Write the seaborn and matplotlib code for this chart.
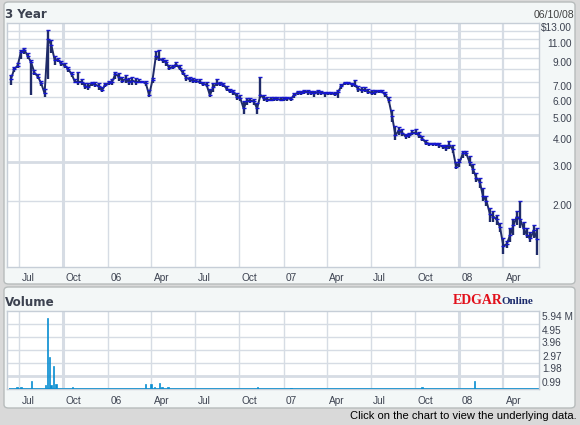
import pandas as pd
import seaborn as sns
import matplotlib.pyplot as plt
import matplotlib.dates as mdates
from matplotlib.patches import FancyBboxPatch
from matplotlib.ticker import NullLocator
from matplotlib.transforms import ScaledTranslation, blended_transform_factory

sns.set_style("white")

W, H, DPI = 580, 425, 100

# weekly price bars, first week ends 2005-06-14
week_start = "2005-06-14"
closes = [
    7.2, 8.0, 8.3, 9.6, 9.8, 9.2, 8.6, 7.7, 7.4, 6.9,
    6.2, 11.0, 10.3, 8.8, 8.8, 8.5, 8.3, 8.0, 7.6, 7.0,
    7.0, 7.0, 6.7, 6.6, 6.9, 6.8, 6.7, 6.4, 6.8, 6.9,
    7.0, 7.6, 7.4, 7.1, 7.2, 7.0, 7.1, 7.0, 7.0, 7.0,
    6.9, 6.1, 7.15, 9.2, 8.9, 8.8, 8.6, 8.1, 8.2, 8.4,
    8.1, 7.7, 7.3, 7.2, 7.1, 7.05, 7.0, 6.85, 6.8, 6.1,
    6.6, 6.9, 6.85, 6.8, 6.5, 6.35, 6.3, 6.0, 5.9, 5.3,
    5.75, 5.75, 5.7, 5.3, 6.1, 5.9, 5.8, 5.8, 5.85, 5.85,
    5.8, 5.85, 5.9, 5.85, 6.1, 6.25, 6.2, 6.3, 6.3, 6.25,
    6.2, 6.3, 6.25, 6.2, 6.2, 6.2, 6.15, 6.3, 6.7, 6.9,
    6.9, 6.85, 6.75, 6.5, 6.4, 6.45, 6.3, 6.25, 6.3, 6.35,
    6.3, 6.15, 5.8, 4.9, 4.0, 4.2, 4.1, 3.95, 4.0, 4.1,
    4.1, 4.0, 3.85, 3.7, 3.65, 3.65, 3.65, 3.6, 3.55, 3.5,
    3.6, 3.45, 2.87, 3.0, 3.3, 3.3, 3.0, 2.8, 2.55, 2.45,
    2.1, 2.0, 1.75, 1.7, 1.65, 1.52, 1.25, 1.27, 1.4, 1.55,
    1.7, 1.65, 1.5, 1.4, 1.35, 1.47, 1.34,
]
lows = [
    6.8, 7.8, 8.1, 8.9, 9.4, 8.9, 6.1, 7.5, 7.2, 6.7,
    6.0, 7.2, 9.5, 8.4, 8.6, 8.3, 8.1, 7.8, 7.4, 6.9,
    6.8, 6.8, 6.5, 6.4, 6.7, 6.6, 6.4, 6.3, 6.6, 6.8,
    6.8, 7.2, 7.1, 6.9, 6.9, 6.8, 6.8, 6.8, 6.9, 6.9,
    6.7, 5.95, 6.9, 8.8, 8.7, 8.5, 8.3, 7.9, 8.0, 8.2,
    7.9, 7.5, 7.1, 7.0, 6.9, 6.9, 6.85, 6.7, 6.6, 6.0,
    6.3, 6.7, 6.7, 6.6, 6.35, 6.2, 6.1, 5.8, 5.7, 5.0,
    5.5, 5.6, 5.5, 5.0, 5.9, 5.7, 5.65, 5.7, 5.7, 5.7,
    5.7, 5.7, 5.75, 5.7, 5.9, 6.1, 6.1, 6.15, 6.1, 6.1,
    6.0, 6.1, 6.1, 6.0, 6.1, 6.1, 6.05, 5.9, 6.5, 6.8,
    6.75, 6.6, 6.6, 6.3, 6.25, 6.3, 6.15, 6.1, 6.1, 6.2,
    6.2, 6.0, 5.6, 4.6, 3.8, 4.0, 3.95, 3.85, 3.9, 4.0,
    4.0, 3.9, 3.75, 3.6, 3.55, 3.55, 3.55, 3.5, 3.45, 3.4,
    3.45, 3.3, 2.8, 2.85, 3.15, 3.2, 2.9, 2.65, 2.45, 2.3,
    2.0, 1.9, 1.6, 1.6, 1.55, 1.45, 1.15, 1.22, 1.3, 1.4,
    1.55, 1.5, 1.4, 1.35, 1.3, 1.35, 1.13,
]
highs = [
    7.5, 8.2, 8.5, 9.8, 10.0, 9.5, 8.8, 7.9, 7.6, 7.1,
    6.5, 12.1, 10.9, 9.2, 9.0, 8.7, 8.5, 8.2, 7.8, 7.2,
    7.8, 7.2, 6.9, 6.9, 7.0, 7.0, 6.9, 6.6, 6.9, 7.1,
    7.2, 7.8, 7.7, 7.4, 7.5, 7.3, 7.4, 7.3, 7.2, 7.1,
    7.1, 6.4, 7.3, 9.7, 9.8, 9.0, 8.8, 8.4, 8.4, 8.6,
    8.4, 7.9, 7.5, 7.4, 7.3, 7.2, 7.2, 7.0, 7.0, 6.5,
    6.9, 7.2, 7.0, 6.95, 6.7, 6.5, 6.45, 6.2, 6.1, 5.7,
    5.9, 5.9, 5.85, 5.6, 7.4, 6.1, 5.95, 5.95, 6.0, 6.0,
    5.95, 6.0, 6.0, 6.0, 6.2, 6.35, 6.35, 6.4, 6.4, 6.35,
    6.35, 6.4, 6.35, 6.3, 6.3, 6.3, 6.3, 6.4, 6.85, 7.0,
    7.0, 6.95, 7.15, 6.7, 6.6, 6.6, 6.5, 6.4, 6.4, 6.45,
    6.45, 6.3, 6.0, 5.2, 4.4, 4.35, 4.25, 4.05, 4.1, 4.2,
    4.25, 4.15, 3.95, 3.8, 3.7, 3.7, 3.7, 3.7, 3.6, 3.6,
    3.75, 3.6, 3.0, 3.1, 3.4, 3.4, 3.2, 2.95, 2.7, 2.55,
    2.3, 2.1, 1.85, 1.8, 1.72, 1.58, 1.35, 1.32, 1.5, 1.65,
    1.8, 2.0, 1.6, 1.5, 1.45, 1.55, 1.5,
]

# volume in millions: weekly background level plus the busy days
weekly_volumes = [
    0.09, 0.10, 0.09, 0.09, 0.09, 0.09, 0.09, 0.09, 0.09, 0.10,
    0.10, 0.10, 0.10, 0.09, 0.09, 0.09, 0.09, 0.09, 0.09, 0.09,
    0.09, 0.09, 0.09, 0.09, 0.09, 0.09, 0.09, 0.09, 0.09, 0.09,
    0.09, 0.09, 0.09, 0.09, 0.09, 0.09, 0.09, 0.09, 0.09, 0.09,
    0.09, 0.10, 0.10, 0.10, 0.10, 0.10, 0.09, 0.09, 0.09, 0.09,
    0.09, 0.09, 0.09, 0.09, 0.09, 0.09, 0.09, 0.09, 0.09, 0.09,
    0.09, 0.09, 0.09, 0.09, 0.09, 0.09, 0.09, 0.09, 0.09, 0.09,
    0.09, 0.09, 0.09, 0.09, 0.09, 0.09, 0.09, 0.09, 0.09, 0.09,
    0.09, 0.09, 0.09, 0.09, 0.09, 0.09, 0.09, 0.09, 0.09, 0.09,
    0.09, 0.09, 0.09, 0.09, 0.09, 0.09, 0.09, 0.09, 0.09, 0.09,
    0.09, 0.09, 0.09, 0.09, 0.09, 0.09, 0.09, 0.09, 0.09, 0.09,
    0.09, 0.09, 0.09, 0.09, 0.09, 0.09, 0.09, 0.09, 0.09, 0.09,
    0.09, 0.09, 0.09, 0.09, 0.09, 0.09, 0.09, 0.09, 0.09, 0.09,
    0.09, 0.09, 0.09, 0.09, 0.09, 0.09, 0.09, 0.09, 0.09, 0.09,
    0.09, 0.09, 0.09, 0.09, 0.09, 0.09, 0.09, 0.09, 0.09, 0.09,
    0.09, 0.09, 0.09, 0.09, 0.09, 0.09, 0.09,
]
spike_dates = [
    "2005-06-27", "2005-07-05", "2005-07-27", "2005-08-25", "2005-08-29",
    "2005-09-02", "2005-09-05", "2005-09-11", "2005-09-16", "2005-10-20",
    "2006-03-20", "2006-04-01", "2006-04-08", "2006-04-19", "2006-04-24",
    "2006-05-06", "2006-11-08", "2007-01-16", "2007-10-15", "2008-02-01",
]
spike_volumes = [
    0.12, 0.15, 0.62, 0.30, 5.40,
    2.40, 0.30, 1.78, 0.35, 0.12,
    0.35, 0.40, 0.14, 0.45, 0.15,
    0.15, 0.12, 0.10, 0.12, 0.62,
]

price_grid = [2, 3, 4, 5, 6, 7, 8, 9, 10, 11, 12]
price_ticks = [13, 11, 9, 7, 6, 5, 4, 3, 2]
price_labels = ["$13.00", "11.00", "9.00", "7.00", "6.00", "5.00", "4.00", "3.00", "2.00"]
vol_ticks = [5.94, 4.95, 3.96, 2.97, 1.98, 0.99]
vol_labels = ["5.94 M", "4.95", "3.96", "2.97", "1.98", "0.99"]
quarter_starts = ["2005-07-01", "2005-10-01", "2006-01-01", "2006-04-01",
                  "2006-07-01", "2006-10-01", "2007-01-01", "2007-04-01",
                  "2007-07-01", "2007-10-01", "2008-01-01", "2008-04-01"]
quarter_labels = ["Jul", "Oct", "06", "Apr", "Jul", "Oct", "07", "Apr",
                  "Jul", "Oct", "08", "Apr"]

GRID = "#d6dce4"
TXT = "#3c4250"
NAVY = "#1f2b68"
VOL = "#0b8fd2"
# quarter gridlines drawn heavier in the original (Oct 05, Jan 08, Apr 08)
thick_x = {1: 2.2, 10: 2.2, 11: 1.6}


def fx(px):
    return px / W


def fy(py):
    return 1 - py / H


def panel(fig, x0, y0, x1, y1):
    box = FancyBboxPatch((fx(x0), fy(y1)), (x1 - x0) / W, (y1 - y0) / H,
                         boxstyle="round,pad=0,rounding_size=0.008",
                         transform=fig.transFigure, fc="#f3f7f7", ec="#b7bcbc",
                         lw=1, zorder=-5)
    fig.patches.append(box)


def style_axes(ax, xlim):
    ax.set_facecolor("white")
    for sp in ax.spines.values():
        sp.set_color("#c6ced7")
        sp.set_linewidth(1)
    ax.set_xlim(xlim)
    ax.set_xticks([mdates.date2num(pd.Timestamp(d)) for d in quarter_starts])
    ax.set_xticklabels([])
    ax.yaxis.set_minor_locator(NullLocator())
    ax.xaxis.set_minor_locator(NullLocator())
    ax.tick_params(length=0, labelleft=False, labelbottom=False)
    ax.set_axisbelow(True)
    ax.grid(True, which="major", color=GRID, lw=1)
    for i, line in enumerate(ax.get_xgridlines()):
        if i in thick_x:
            line.set_linewidth(thick_x[i])
    ax.set_xlabel("")
    ax.set_ylabel("")


def x_labels(fig, ax, y_px, bottom_px, height_px):
    tr = blended_transform_factory(ax.transData, ax.transAxes) + \
        ScaledTranslation(2.5 / DPI, 0, fig.dpi_scale_trans)
    yf = (bottom_px - y_px) / height_px
    for d, lab in zip(quarter_starts, quarter_labels):
        ax.text(mdates.date2num(pd.Timestamp(d)), yf, lab, transform=tr,
                ha="left", va="baseline", fontsize=7.3,
                family="Liberation Sans", color=TXT, clip_on=False)


def main():
    fig = plt.figure(figsize=(W / DPI, H / DPI), dpi=DPI, facecolor="#d9d9d9")
    panel(fig, 4, 2, 575, 284)
    panel(fig, 4, 287, 575, 408)

    xlim = (mdates.date2num(pd.Timestamp("2005-06-06")),
            mdates.date2num(pd.Timestamp("2008-06-14")))

    df = pd.DataFrame({
        "date": pd.date_range(week_start, periods=len(closes), freq="7D"),
        "close": closes, "low": lows, "high": highs,
        "volume": weekly_volumes,
    })

    # price panel
    ax1 = fig.add_axes([fx(7), fy(267), (539 - 7) / W, (267 - 23) / H])
    ax1.set_yscale("log")
    ax1.vlines(df["date"], df["low"], df["high"], color=NAVY, lw=1.7, zorder=2)
    sns.lineplot(data=df, x="date", y="close", ax=ax1, color=NAVY,
                 lw=1.4, zorder=3)
    ax1.plot(df["date"], df["high"], ls="none", marker="_", ms=3, mew=1,
             color="#1818d0", zorder=4)
    ax1.plot(df["date"], df["close"], ls="none", marker="_", ms=3, mew=1,
             color="#1414d8", zorder=4)
    ax1.set_ylim(1.0, 13.0)
    ax1.set_yticks(price_grid)
    style_axes(ax1, xlim)
    for i, line in enumerate(ax1.get_ygridlines()):
        if price_grid[i] in (3, 4):
            line.set_linewidth(2)

    tr = blended_transform_factory(ax1.transAxes, ax1.transData) + \
        ScaledTranslation(0, -8 / DPI, fig.dpi_scale_trans)
    for v, lab in zip(price_ticks, price_labels):
        ax1.text((572 - 7) / 532, v, lab, transform=tr, ha="right",
                 va="baseline", fontsize=7.3, family="Liberation Sans",
                 color=TXT, clip_on=False)
    x_labels(fig, ax1, 281, 267, 244)

    # volume panel
    ax2 = fig.add_axes([fx(7), fy(389), (539 - 7) / W, (389 - 311) / H])
    ax2.bar(df["date"], df["volume"], width=7, color=VOL, lw=0, zorder=2)
    ax2.bar(pd.to_datetime(spike_dates), spike_volumes, width=3.0, color=VOL,
            edgecolor=VOL, lw=0.5, zorder=3)
    ax2.set_ylim(0, 5.94)
    ax2.set_yticks(vol_ticks[1:])
    style_axes(ax2, xlim)
    for i, line in enumerate(ax2.get_ygridlines()):
        if vol_ticks[1:][i] == 0.99:
            line.set_linewidth(2)

    tr = blended_transform_factory(ax2.transAxes, ax2.transData) + \
        ScaledTranslation(0, -9.5 / DPI, fig.dpi_scale_trans)
    for v, lab in zip(vol_ticks, vol_labels):
        ax2.text((542 - 7) / 532, v, lab, transform=tr, ha="left",
                 va="baseline", fontsize=7.3, family="Liberation Sans",
                 color=TXT, clip_on=False)
    x_labels(fig, ax2, 403.5, 389, 78)

    # headers and footer
    fig.text(fx(5), fy(17.5), "3 Year", fontsize=8.6, weight="bold",
             family="DejaVu Sans", color=TXT, va="baseline")
    fig.text(fx(574), fy(18.5), "06/10/08", fontsize=7.6,
             family="Liberation Sans", color="#404040", ha="right", va="baseline")
    fig.text(fx(5), fy(306.5), "Volume", fontsize=8.6, weight="bold",
             family="DejaVu Sans", color=TXT, va="baseline")
    fig.text(fx(452.5), fy(303.5), "EDGAR", fontsize=10, weight="bold",
             family="Liberation Serif", color="#e2101b", va="baseline")
    fig.text(fx(501), fy(303.5), "Online", fontsize=8, weight="bold",
             family="Liberation Serif", color="#1b2a6b", va="baseline")
    fig.text(fx(577), fy(419), "Click on the chart to view the underlying data.",
             fontsize=8, family="Liberation Sans", color="black",
             ha="right", va="baseline")

    fig.savefig("out.png", dpi=DPI, facecolor=fig.get_facecolor())
    plt.close(fig)


if __name__ == "__main__":
    main()
